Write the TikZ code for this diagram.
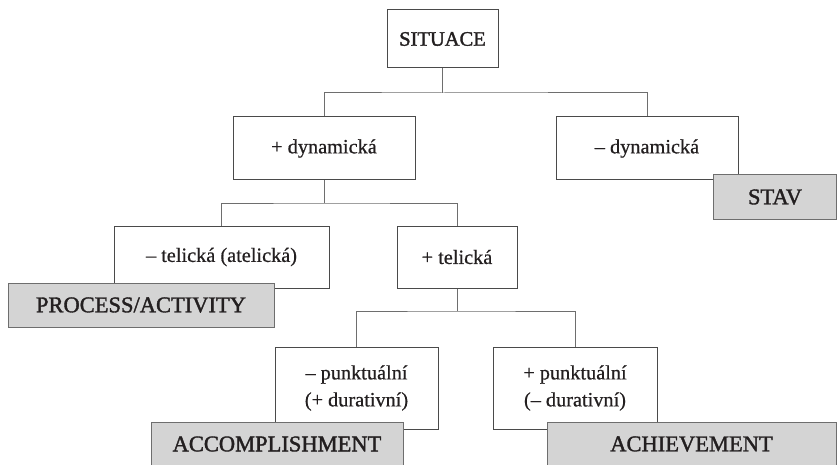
\documentclass[tikz,border=0pt]{standalone}
\usepackage{fontspec}
\setmainfont{Liberation Serif}
\newfontfamily\capsfont[FakeBold=1.6]{Liberation Serif}
\newfontfamily\bodyfont[FakeBold=0.6]{Liberation Serif}
\definecolor{txt}{HTML}{231F20}
\definecolor{boxline}{HTML}{4A4A4A}
\definecolor{conn}{HTML}{6E6E6E}
\definecolor{grayfill}{HTML}{D4D4D4}
\tikzset{
  wbox/.style={draw=boxline, line width=1pt, fill=white, inner sep=0pt, align=center,
     text=txt, font=\bodyfont\fontsize{20.3}{27}\selectfont},
  capbox/.style={wbox, font=\capsfont\fontsize{20.5}{27}\selectfont},
  gbox/.style={draw=conn, line width=1pt, fill=grayfill, inner sep=0pt, align=center,
     text=txt, font=\capsfont\fontsize{22.5}{27}\selectfont},
  link/.style={draw=conn, line width=1pt}
}
\begin{document}
\begin{tikzpicture}[x=1pt,y=-1pt]
\useasboundingbox (0,0) rectangle (837,465);
\clip (0,0) rectangle (837,465);
\fill[white] (0,0) rectangle (837,465);
% junctions
\coordinate (j1) at (442.5,93);
\coordinate (j2) at (324,203);
\coordinate (j3) at (457,311);
% white boxes
\node[capbox, minimum width=111pt, minimum height=58pt] (sit) at (442.5,39) {SITUACE};
\node[wbox, minimum width=182pt, minimum height=63pt] (pd) at (324,148.5) {+ dynamická};
\node[wbox, minimum width=182pt, minimum height=63pt] (md) at (647,148.5) {– dynamická};
\node[wbox, minimum width=215pt, minimum height=62pt] (mt) at (221.5,257) {– telická (atelická)};
\node[wbox, minimum width=120pt, minimum height=62pt] (pt) at (457,257) {+ telická};
\node[wbox, minimum width=163pt, minimum height=82pt] (mp) at (356.5,388) {– punktuální\\(+ durativní)};
\node[wbox, minimum width=164pt, minimum height=82pt] (pp) at (575,388) {+ punktuální\\(– durativní)};
% connectors
\draw[link] (sit.south) -- (j1);
\draw[link] (pd.north) |- (j1) -| (md.north);
\draw[link] (pd.south) -- (j2);
\draw[link] (mt.north) |- (j2) -| (pt.north);
\draw[link] (pt.south) -- (j3);
\draw[link] (mp.north) |- (j3) -| (pp.north);
% gray boxes
\node[gbox, minimum width=123pt, minimum height=44pt] (stav) at (775,197) {STAV};
\node[gbox, minimum width=266pt, minimum height=44pt] (proc) at (141,305) {PROCESS/ACTIVITY};
\node[gbox, minimum width=252pt, minimum height=44pt] (acc) at (277,444) {ACCOMPLISHMENT};
\node[gbox, minimum width=289pt, minimum height=44pt] (ach) at (691.5,444) {ACHIEVEMENT};
\end{tikzpicture}
\end{document}
